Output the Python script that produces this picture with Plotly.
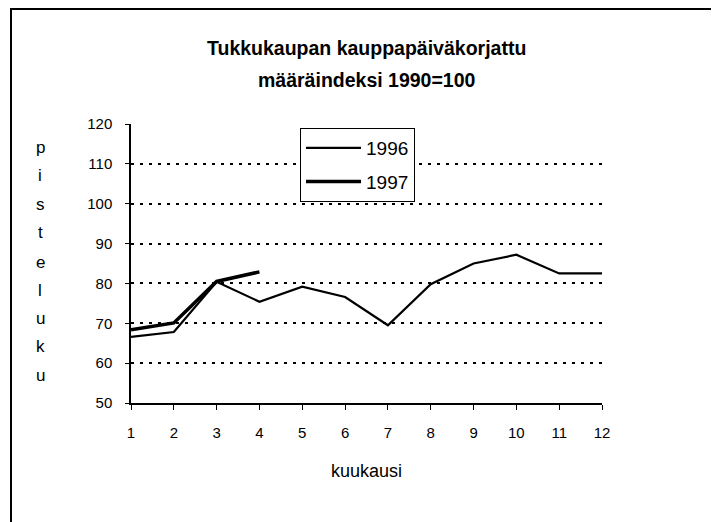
import plotly.graph_objects as go

months = list(range(1, 13))
month_labels = [str(m) for m in months]
values_1996 = [66.6, 67.8, 80.4, 75.4, 79.2, 76.6, 69.5, 79.8, 85.0, 87.2, 82.5, 82.5]
months_1997 = [1, 2, 3, 4]
values_1997 = [68.4, 70.1, 80.5, 82.9]
y_ticks = [50, 60, 70, 80, 90, 100, 110, 120]
title_lines = ["Tukkukaupan kauppapäiväkorjattu", "määräindeksi 1990=100"]
x_title = "kuukausi"
y_title = "pisteluku"

WIN_W, WIN_H = 719, 522
OFF = 8  # default page body margin
W, H = WIN_W - OFF, WIN_H - OFF  # keep figure inside the window (no scrollbars)
X0, X1, Y0, Y1 = 131, 602, 403, 124  # target plot-area pixels in the window


def px(x):
    return (x - X0) / (X1 - X0)


def py(y):
    return (Y0 - y) / (Y0 - Y1)


FONT = "Liberation Sans, Arial, sans-serif"

fig = go.Figure()
fig.add_trace(go.Scatter(x=months, y=values_1996, mode="lines", name="1996",
                         line=dict(color="black", width=2.2), legendgroup="a"))
fig.add_trace(go.Scatter(x=months_1997, y=values_1997, mode="lines", name="1997",
                         line=dict(color="black", width=3.5), legendgroup="b"))

ml = X0 - OFF
mt = Y1 - OFF
fig.update_layout(
    width=W, height=H,
    margin=dict(l=ml, r=W - ml - (X1 - X0), t=mt, b=H - mt - (Y0 - Y1), pad=0),
    paper_bgcolor="white", plot_bgcolor="white",
    font=dict(family=FONT, size=15, color="black"),
    showlegend=True,
    legend=dict(x=px(300), y=py(128), xanchor="left", yanchor="top",
                bordercolor="black", borderwidth=1, bgcolor="white",
                font=dict(size=19), tracegroupgap=6, traceorder="grouped",
                itemwidth=55),
)

fig.update_xaxes(
    range=[1, 12], tickvals=months, ticktext=month_labels,
    showline=True, linecolor="black", linewidth=1.5,
    ticks="outside", ticklen=5, tickcolor="black", tickwidth=1,
    showgrid=False, zeroline=False, ticklabelstandoff=10,
    tickfont=dict(size=15),
    title=dict(text=x_title, font=dict(size=18), standoff=25),
)
fig.update_yaxes(
    range=[50, 120], tickvals=y_ticks,
    showline=True, linecolor="black", linewidth=1.5,
    ticks="outside", ticklen=4, tickcolor="black", tickwidth=1,
    showgrid=True, gridcolor="black", gridwidth=2, griddash="3px,6px",
    zeroline=False, ticklabelstandoff=10, tickfont=dict(size=15),
)

# Outer frame
fig.add_shape(type="rect", xref="paper", yref="paper",
              x0=px(11), x1=px(715), y0=py(540), y1=py(9),
              line=dict(color="black", width=2), layer="below")

# Title lines
for line, yy in zip(title_lines, [48, 80]):
    fig.add_annotation(text="<b>" + line + "</b>", xref="paper", yref="paper",
                       x=0.5, y=py(yy), xanchor="center", yanchor="middle",
                       showarrow=False, font=dict(size=19.5, family=FONT))

# Vertical stacked y-axis title letters
letter_y = [147, 175, 204, 232, 262, 290, 318, 346, 375]
for ch, yy in zip(y_title, letter_y):
    fig.add_annotation(text=ch, xref="paper", yref="paper",
                       x=px(40), y=py(yy), xanchor="center", yanchor="middle",
                       showarrow=False, font=dict(size=17, family=FONT))

fig.write_html("out.html")
